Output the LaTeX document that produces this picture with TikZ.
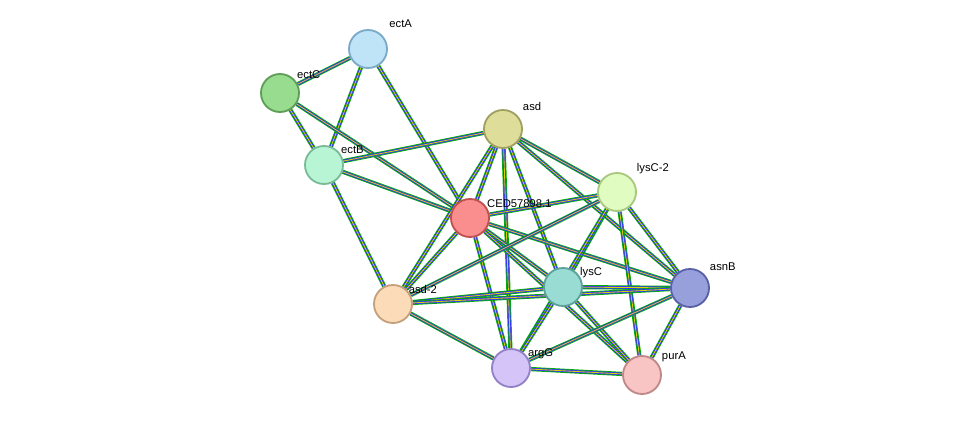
\documentclass[tikz,border=0pt]{standalone}
\usepackage{fontspec}
\setmainfont{Liberation Sans}
\usetikzlibrary{positioning}
\pgfdeclarelayer{links}
\pgfsetlayers{links,main}
\tikzset{
  prot/.style={circle, minimum size=0.95cm, line width=1.3pt, inner sep=0pt},
  lbl/.style={font=\fontsize{8}{9}\selectfont, inner sep=1pt, anchor=south west},
  link/.style={line width=3pt, draw=green!70!black},
  linkB/.style={line width=1.8pt, draw=blue!80!white},
  linkY/.style={line width=0.6pt, draw=yellow!70!olive},
}
\begin{document}
\begin{tikzpicture}[x=0.025cm, y=-0.025cm]
  \useasboundingbox (0,0) rectangle (975,421);
  % proteins
  \node (ectA) [prot, fill={rgb,255:red,192;green,228;blue,247}, draw={rgb,255:red,122;green,169;blue,201}] at (368,49) {};
  \node (ectC) [prot, fill={rgb,255:red,152;green,220;blue,144}, draw={rgb,255:red,95;green,158;blue,87}] at (280,93) {};
  \node (ectB) [prot, fill={rgb,255:red,184;green,245;blue,212}, draw={rgb,255:red,121;green,187;blue,151}] at (324,165) {};
  \node (asd) [prot, fill={rgb,255:red,222;green,222;blue,154}, draw={rgb,255:red,160;green,160;blue,96}] at (503,129) {};
  \node (lysCb) [prot, fill={rgb,255:red,224;green,252;blue,192}, draw={rgb,255:red,168;green,200;blue,128}] at (617,192) {};
  \node (ced) [prot, fill={rgb,255:red,250;green,142;blue,142}, draw={rgb,255:red,192;green,80;blue,80}] at (470,218) {};
  \node (asnB) [prot, fill={rgb,255:red,152;green,160;blue,220}, draw={rgb,255:red,88;green,96;blue,168}] at (690,288) {};
  \node (lysC) [prot, fill={rgb,255:red,152;green,220;blue,212}, draw={rgb,255:red,90;green,162;blue,154}] at (563,287) {};
  \node (asdb) [prot, fill={rgb,255:red,252;green,220;blue,184}, draw={rgb,255:red,196;green,160;blue,124}] at (393,304) {};
  \node (argG) [prot, fill={rgb,255:red,212;green,196;blue,248}, draw={rgb,255:red,148;green,128;blue,200}] at (511,368) {};
  \node (purA) [prot, fill={rgb,255:red,248;green,196;blue,196}, draw={rgb,255:red,192;green,136;blue,136}] at (642,375) {};
  % links
  \begin{pgfonlayer}{links}
  \foreach \a/\b in {ectA/ectC, ectA/ectB, ectA/ced, ectC/ectB, ectC/ced, ectB/ced, ectB/asd, ectB/asdb,
      asd/ced, asd/lysCb, asd/lysC, asd/asdb, asd/argG, asd/asnB, ced/lysCb, ced/lysC, ced/asdb, ced/argG,
      ced/asnB, ced/purA, lysCb/lysC, lysCb/asdb, lysCb/asnB, lysCb/argG, lysCb/purA, lysC/asnB, lysC/asdb,
      lysC/argG, lysC/purA, asdb/argG, asdb/asnB, argG/asnB, argG/purA, asnB/purA}{
    \draw [link] (\a) -- (\b);
    \draw [linkB] (\a) -- (\b);
    \draw [linkY] (\a) -- (\b);
  }
  \end{pgfonlayer}
  % labels
  \node [lbl] at ([xshift=4pt,yshift=4pt]ectA.north east) {ectA};
  \node [lbl] at ([xshift=1pt,yshift=-1pt]ectC.north east) {ectC};
  \node [lbl] at ([xshift=1pt,yshift=-3pt]ectB.north east) {ectB};
  \node [lbl] at ([xshift=3pt,yshift=2pt]asd.north east) {asd};
  \node [lbl] at ([xshift=3pt,yshift=2pt]lysCb.north east) {lysC-2};
  \node [lbl] at ([xshift=1pt,yshift=-4pt]ced.north east) {CED57898.1};
  \node [lbl] at ([xshift=3pt,yshift=1pt]asnB.north east) {asnB};
  \node [lbl] at ([xshift=1pt,yshift=-5pt]lysC.north east) {lysC};
  \node [lbl] at ([xshift=0pt,yshift=-4pt]asdb.north east) {asd-2};
  \node [lbl] at ([xshift=1pt,yshift=-5pt]argG.north east) {argG};
  \node [lbl] at ([xshift=3pt,yshift=-2pt]purA.north east) {purA};
\end{tikzpicture}
\end{document}
